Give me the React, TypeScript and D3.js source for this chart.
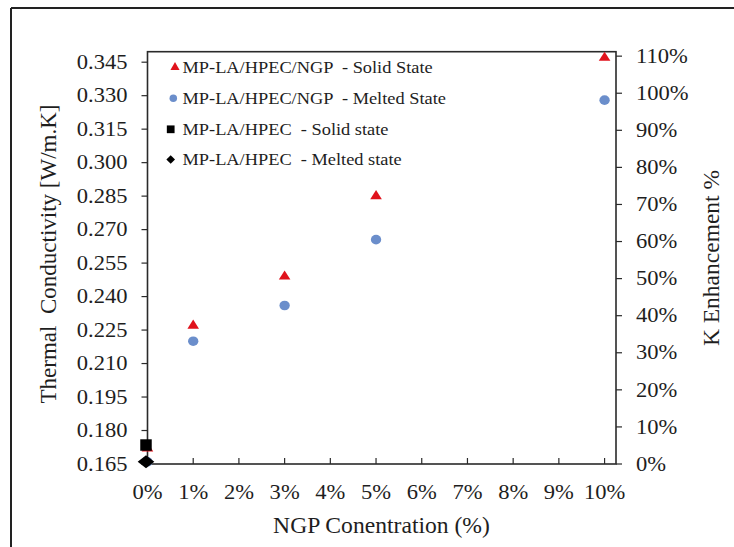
import React from "react";
import * as d3 from "d3";

// ---- data ----
const ngpLevels = [0, 0.01, 0.03, 0.05, 0.1];
const solidNGP = [0.172, 0.227, 0.249, 0.285, 0.347];
const meltedNGP = [0.166, 0.22, 0.236, 0.2655, 0.328];
const baseLevels = [0];
const baseSolid = [0.1735];
const baseMelted = [0.166];

const xTickValues = [0, 0.01, 0.02, 0.03, 0.04, 0.05, 0.06, 0.07, 0.08, 0.09, 0.1];
const xTickLabels = ["0%", "1%", "2%", "3%", "4%", "5%", "6%", "7%", "8%", "9%", "10%"];
const leftTickValues = [0.165, 0.18, 0.195, 0.21, 0.225, 0.24, 0.255, 0.27, 0.285, 0.3, 0.315, 0.33, 0.345];
const rightTickValues = [0, 0.1, 0.2, 0.3, 0.4, 0.5, 0.6, 0.7, 0.8, 0.9, 1.0, 1.1];

const legendLabels = [
  "MP-LA/HPEC/NGP  - Solid State",
  "MP-LA/HPEC/NGP  - Melted State",
  "MP-LA/HPEC  - Solid state",
  "MP-LA/HPEC  - Melted state",
];

const W = 734;
const H = 547;
const plot = { left: 147.5, right: 616, top: 51.7, bottom: 464 };
const RED = "#e0121c";
const BLUE = "#6b8ecb";
const INK = "#1e1e1e";
const FONT = "Liberation Serif";

export default function App() {
  const x = d3.scaleLinear().domain([0, 0.1025]).range([plot.left, plot.right]);
  const yL = d3.scaleLinear().domain([0.165, 0.3497]).range([plot.bottom, plot.top]);
  const yR = d3.scaleLinear().domain([0, 1.112]).range([plot.bottom, plot.top]);

  const tri = d3.symbol().type(d3.symbolTriangle).size(48)() as string;
  const circ = d3.symbol().type(d3.symbolCircle).size(72)() as string;
  const sq = d3.symbol().type(d3.symbolSquare).size(132)() as string;
  const dia = d3.symbol().type(d3.symbolDiamond2).size(105)() as string;

  const triL = d3.symbol().type(d3.symbolTriangle).size(36)() as string;
  const circL = d3.symbol().type(d3.symbolCircle).size(44)() as string;
  const sqL = d3.symbol().type(d3.symbolSquare).size(60)() as string;
  const diaL = d3.symbol().type(d3.symbolDiamond2).size(48)() as string;

  const tickFS = 20.5;
  const tickSX = 1.1;
  const ts = { fontFamily: FONT };

  const legendRows = [
    { y: 67.3, mx: 175, path: triL, fill: RED },
    { y: 98.3, mx: 173.3, path: circL, fill: BLUE },
    { y: 129.3, mx: 170.7, path: sqL, fill: "#000" },
    { y: 159.5, mx: 170.7, path: diaL, fill: "#000" },
  ];

  return (
    <svg
      width={W}
      height={H}
      style={{ position: "absolute", left: 0, top: 0, background: "#fff" }}
    >
      <rect x={0} y={0} width={W} height={H} fill="#fff" />
      {/* outer border (left and top visible) */}
      <line x1={11} y1={8} x2={W} y2={8} stroke="#222" strokeWidth={2} />
      <line x1={11} y1={8} x2={11} y2={H} stroke="#222" strokeWidth={2} />

      {/* plot frame */}
      <rect
        x={plot.left}
        y={plot.top}
        width={plot.right - plot.left}
        height={plot.bottom - plot.top}
        fill="none"
        stroke="#2a2a2a"
        strokeWidth={1.6}
      />

      {/* x ticks (inward) */}
      {xTickValues.map((v, i) => (
        <g key={"xt" + i}>
          {i > 0 && (
            <line x1={x(v)} x2={x(v)} y1={plot.bottom} y2={plot.bottom - 6} stroke="#2a2a2a" strokeWidth={1.2} />
          )}
          <text
            transform={`translate(${x(v)},${492}) scale(${tickSX},1)`}
            textAnchor="middle"
            dominantBaseline="central"
            fontSize={tickFS}
            fill={INK}
            style={ts}
          >
            {xTickLabels[i]}
          </text>
        </g>
      ))}

      {/* left ticks (outward) */}
      {leftTickValues.map((v, i) => (
        <g key={"yl" + i}>
          <line x1={plot.left - 6} x2={plot.left} y1={yL(v)} y2={yL(v)} stroke="#2a2a2a" strokeWidth={1.2} />
          <text
            transform={`translate(${127.5},${yL(v)}) scale(${tickSX},1)`}
            textAnchor="end"
            dominantBaseline="central"
            fontSize={tickFS}
            fill={INK}
            style={ts}
          >
            {v.toFixed(3)}
          </text>
        </g>
      ))}

      {/* right ticks (outward) */}
      {rightTickValues.map((v, i) => (
        <g key={"yr" + i}>
          <line x1={plot.right} x2={plot.right + 6} y1={yR(v)} y2={yR(v)} stroke="#2a2a2a" strokeWidth={1.2} />
          <text
            transform={`translate(${636},${yR(v)}) scale(${tickSX},1)`}
            textAnchor="start"
            dominantBaseline="central"
            fontSize={tickFS}
            fill={INK}
            style={ts}
          >
            {Math.round(v * 100) + "%"}
          </text>
        </g>
      ))}

      {/* axis titles */}
      <text
        transform={`translate(${381.5},${525}) scale(1.05,1)`}
        textAnchor="middle"
        dominantBaseline="central"
        fontSize={22.5}
        fill={INK}
        style={ts}
      >
        NGP Conentration (%)
      </text>
      <text
        transform={`translate(${48},${254}) rotate(-90)`}
        textAnchor="middle"
        dominantBaseline="central"
        fontSize={23}
        fill={INK}
        style={{ ...ts, whiteSpace: "pre" }}
      >
        {"Thermal  Conductivity [W/m.K]"}
      </text>
      <text
        transform={`translate(${711},${258}) rotate(-90)`}
        textAnchor="middle"
        dominantBaseline="central"
        fontSize={23.5}
        fill={INK}
        style={ts}
      >
        K Enhancement %
      </text>

      {/* data */}
      {ngpLevels.map((v, i) => (
        <path
          key={"s" + i}
          d={tri}
          transform={`translate(${x(v)},${yL(solidNGP[i])}) scale(1.1,1)`}
          fill={RED}
        />
      ))}
      {ngpLevels.map((v, i) => (
        <path
          key={"m" + i}
          d={circ}
          transform={`translate(${x(v)},${yL(meltedNGP[i])}) scale(1.08,1)`}
          fill={BLUE}
        />
      ))}
      {baseLevels.map((v, i) => (
        <path key={"bs" + i} d={sq} transform={`translate(${x(v) - 1.5},${yL(baseSolid[i])})`} fill="#000" />
      ))}
      {baseLevels.map((v, i) => (
        <path
          key={"bm" + i}
          d={dia}
          transform={`translate(${x(v) - 1.5},${yL(baseMelted[i])}) scale(1.3,1)`}
          fill="#000"
        />
      ))}

      {/* legend */}
      {legendRows.map((r, i) => (
        <g key={"lg" + i}>
          <path d={r.path} transform={`translate(${r.mx},${r.y})`} fill={r.fill} />
          <text
            transform={`translate(${182.5},${r.y}) scale(1.08,1)`}
            dominantBaseline="central"
            fontSize={17}
            fill={INK}
            style={{ ...ts, whiteSpace: "pre" }}
          >
            {legendLabels[i]}
          </text>
        </g>
      ))}
    </svg>
  );
}
